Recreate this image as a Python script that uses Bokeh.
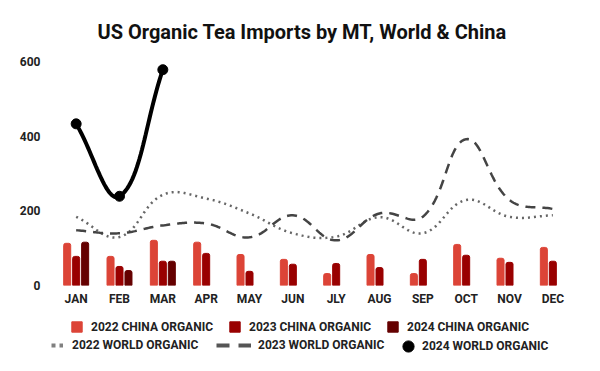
import numpy as np
from bokeh.plotting import figure
from bokeh.layouts import column
from bokeh.models import Range1d, FixedTicker, Legend, LegendItem
from bokeh.embed import file_html
from bokeh.resources import INLINE

months = ["JAN", "FEB", "MAR", "APR", "MAY", "JUN", "JLY", "AUG", "SEP", "OCT", "NOV", "DEC"]
china_2022 = [113, 78, 121, 116, 83, 70, 32, 83, 32, 110, 73, 102]
china_2023 = [78, 51, 65, 86, 38, 57, 59, 48, 70, 81, 62, 65]
china_2024 = [116, 40, 65]
world_2022 = [184, 130, 243, 233, 193, 140, 131, 183, 140, 229, 184, 188]
world_2023 = [148, 140, 161, 166, 129, 188, 121, 193, 184, 392, 229, 205]
world_2024 = [433, 239, 578]
y_ticks = [0, 200, 400, 600]

FONT = "Roboto"
C22, C23, C24 = "#dc4437", "#990000", "#650000"

W = 592
p = figure(width=W, height=310, output_backend="svg", toolbar_location=None,
           x_range=Range1d(-0.5, 11.5), y_range=Range1d(0, 600),
           min_border_left=54, min_border_right=18, min_border_top=61, min_border_bottom=25)
p.frame_align = False
p.outline_line_color = None
p.grid.visible = False
p.background_fill_color = "white"
p.border_fill_color = "white"

p.title.text = "US Organic Tea Imports by MT, World & China"
p.title.align = "left"
p.title.offset = 43
p.title.text_font = FONT
p.title.text_font_size = "20px"
p.title.text_font_style = "bold"
p.title.text_color = "#111111"
p.title.standoff = 35

for ax in (p.xaxis[0], p.yaxis[0]):
    ax.axis_line_color = None
    ax.major_tick_line_color = None
    ax.minor_tick_line_color = None
    ax.major_tick_out = 0
    ax.major_tick_in = 0
    ax.major_label_text_font = FONT
    ax.major_label_text_font_size = "12px"
    ax.major_label_text_font_style = "bold"
    ax.major_label_text_color = "#222222"
p.xaxis.ticker = FixedTicker(ticks=list(range(12)))
p.xaxis.major_label_overrides = {i: m for i, m in enumerate(months)}
p.xaxis.major_label_standoff = 6
p.yaxis.ticker = FixedTicker(ticks=y_ticks)
p.yaxis.major_label_standoff = 14

bw = 0.162
off = 0.207
x = np.arange(12)
p.vbar(x=x - off, top=china_2022, width=bw, color=C22, border_radius=(2, 2, 0, 0))
p.vbar(x=x, top=china_2023, width=bw, color=C23, border_radius=(2, 2, 0, 0))
p.vbar(x=np.arange(len(china_2024)) + off, top=china_2024, width=bw, color=C24, border_radius=(2, 2, 0, 0))

def spline(xs, ys, t=0.4, sx=43.3, sy=0.3717, n=30):
    P = np.column_stack([np.asarray(xs, float) * sx, np.asarray(ys, float) * sy])
    m = len(P)
    cpp, cpn = [], []
    for i in range(m):
        prev = P[i - 1] if i > 0 else P[i]
        cur = P[i]
        nxt = P[i + 1] if i < m - 1 else P[i]
        d01 = np.hypot(*(cur - prev))
        d12 = np.hypot(*(nxt - cur))
        s = d01 + d12
        s01 = d01 / s if s else 0
        s12 = d12 / s if s else 0
        cpp.append(cur - t * s01 * (nxt - prev))
        cpn.append(cur + t * s12 * (nxt - prev))
    out = [P[0]]
    tt = np.linspace(0, 1, n)[1:, None]
    for i in range(m - 1):
        a, b, c, d = P[i], cpn[i], cpp[i + 1], P[i + 1]
        seg = (1 - tt) ** 3 * a + 3 * (1 - tt) ** 2 * tt * b + 3 * (1 - tt) * tt ** 2 * c + tt ** 3 * d
        out.extend(seg)
    out = np.array(out)
    return out[:, 0] / sx, out[:, 1] / sy

sx22, sy22 = spline(range(12), world_2022)
sx23, sy23 = spline(range(12), world_2023)
sx24, sy24 = spline(range(len(world_2024)), world_2024)
p.line(sx22, sy22, line_color="#666666", line_width=2.5, line_dash="2 4")
p.line(sx23, sy23, line_color="#444444", line_width=2.5, line_dash="10 7")
p.line(sx24, sy24, line_color="#000000", line_width=4)
p.scatter(list(range(len(world_2024))), world_2024, size=10, color="#000000")

# legend figure below the chart
lf = figure(width=W, height=53, output_backend="svg", toolbar_location=None,
            x_range=Range1d(0, 1), y_range=Range1d(0, 1),
            x_axis_location=None, y_axis_location=None,
            min_border=0, min_border_left=0, min_border_right=0, min_border_top=0, min_border_bottom=0)
lf.frame_align = False
lf.outline_line_color = None
lf.grid.visible = False
ox, oy = [-50, -49], [-50, -50]
l22 = lf.line(ox, oy, line_color="#808080", line_width=4, line_dash="4 4")
l23 = lf.line(ox, oy, line_color="#555555", line_width=4, line_dash="13 9")
l24 = lf.scatter(ox, oy, size=12, color="#000000")
q22 = lf.vbar(x=ox, top=[-40, -40], bottom=[-41, -41], width=0.1, color=C22)
q23 = lf.vbar(x=ox, top=[-40, -40], bottom=[-41, -41], width=0.1, color=C23)
q24 = lf.vbar(x=ox, top=[-40, -40], bottom=[-41, -41], width=0.1, color=C24)

def add_item(label, r, loc, gw, gh, so):
    lf.add_layout(Legend(items=[LegendItem(label=label, renderers=[r])],
                         orientation="horizontal", location=loc,
                         border_line_color=None, background_fill_alpha=0,
                         label_text_font=FONT, label_text_font_size="12px",
                         label_text_font_style="bold", label_text_color="#222222",
                         glyph_width=gw, glyph_height=gh, spacing=0, padding=0, margin=0,
                         label_standoff=so, label_height=12))

add_item("2022 CHINA ORGANIC", q22, (70, 29.5), 13, 13, 8)
add_item("2023 CHINA ORGANIC", q23, (228, 29.5), 13, 13, 8)
add_item("2024 CHINA ORGANIC", q24, (386, 29.5), 13, 13, 8)
add_item("2022 WORLD ORGANIC", l22, (51, 11), 12, 12, 9)
add_item("2023 WORLD ORGANIC", l23, (216, 11), 35, 12, 7)
add_item("2024 WORLD ORGANIC", l24, (394, 3), 28, 28, 0)

layout = column(p, lf, spacing=0)
open("out.html", "w").write(file_html(layout, INLINE))
